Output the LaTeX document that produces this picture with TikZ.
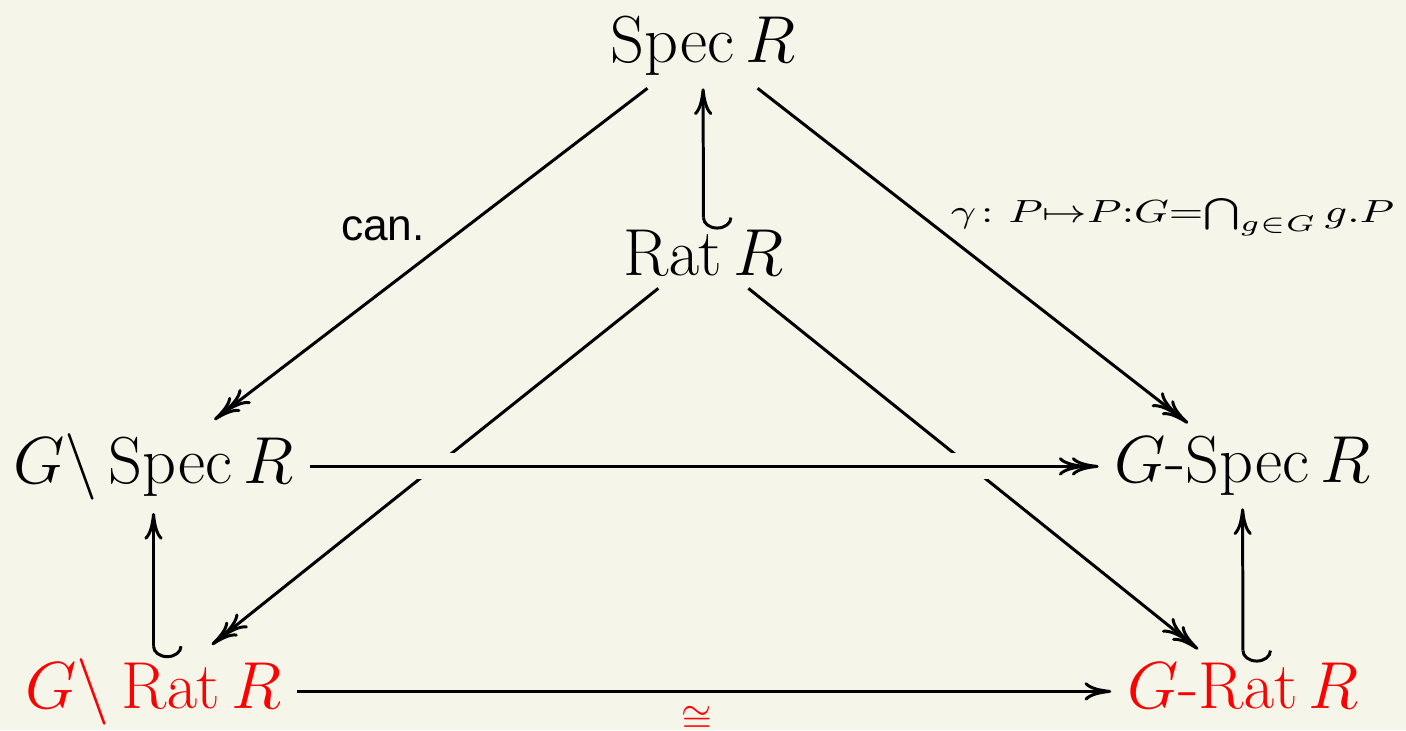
\RequirePackage{fix-cm}
\documentclass[tikz,border=0pt]{standalone}
\usepackage{amsmath}
\usepackage{graphicx}
\usepackage[no-math]{fontspec}
\newfontfamily\helv{Liberation Sans}
\usetikzlibrary{arrows.meta}
\definecolor{bg}{RGB}{245,246,233}
\definecolor{myred}{RGB}{255,0,0}
\tikzset{
  obj/.style={inner xsep=4.3pt, inner ysep=3.6pt, font=\fontsize{18.9}{23}\selectfont},
  cmto/.tip={Computer Modern Rightarrow[length=7.6pt,width=5.2pt]},
  cmtwo/.tip={Computer Modern Rightarrow[length=7.6pt,width=5.2pt,sep=-3.9pt]Computer Modern Rightarrow[length=7.6pt,width=5.2pt]},
  hk/.tip={Hooks[left,length=3.4pt,width=16.5pt]},
  conn/.style={line width=0.85pt, line cap=butt},
  hookconn/.style={conn, hk-cmto, shorten <=-3.8pt},
  crossing/.style={preaction={draw=bg, -, line width=7.4pt}}
}
\begin{document}
\begin{tikzpicture}[x=0.01cm,y=-0.01cm]
\fill[bg] (0,0) rectangle (1406,730);
\useasboundingbox (0,0) rectangle (1406,730);
\node[obj,anchor=base] (spec) at (703,62) {$\operatorname{Spec}R$};
\node[obj,anchor=base] (rat) at (703.5,275) {$\operatorname{Rat}R$};
\node[obj,anchor=base] (qspec) at (153.5,483) {$G\backslash\operatorname{Spec}R$};
\node[obj,anchor=base] (ispec) at (1242.5,482) {$G$-$\operatorname{Spec}R$};
\node[obj,anchor=base,text=myred] (qrat) at (153.5,708) {$G\backslash\operatorname{Rat}R$};
\node[obj,anchor=base,text=myred] (irat) at (1243,708) {$G$-$\operatorname{Rat}R$};
\node[anchor=base,inner sep=0pt,font=\helv\fontsize{12.6}{15}\selectfont] (can) at (383,240) {can.};
\node[anchor=base east,inner sep=0pt,font=\fontsize{13}{15}\selectfont] (gam) at (1395,222)
  {\scalebox{1.35}[1]{$\scriptstyle \gamma\colon P\mapsto P{:}G=\bigcap_{g\in G} g.P$}};
\node[anchor=base,inner sep=0pt,text=myred,font=\fontsize{11}{13}\selectfont] (iso) at (697,731) {$\cong$};
\draw[conn,-cmtwo] (spec) -- (qspec);
\draw[conn,-cmtwo] (spec) -- (ispec);
\draw[hookconn] (rat) -- (spec);
\draw[conn,-cmtwo] (rat) -- (qrat);
\draw[conn,-cmtwo] (rat) -- (irat);
\draw[conn,-cmtwo,crossing] (qspec.east) -- (qspec.east -| ispec.west);
\draw[hookconn] (qrat) -- (qspec);
\draw[hookconn] (irat) -- (ispec);
\draw[conn,-cmto] (qrat.east) -- (qrat.east -| irat.west);
\end{tikzpicture}
\end{document}
